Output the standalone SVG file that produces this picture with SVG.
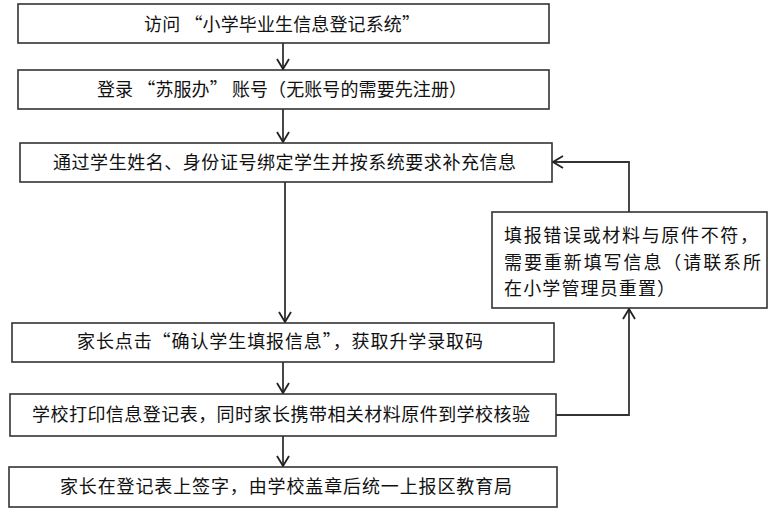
<svg xmlns="http://www.w3.org/2000/svg" width="772" height="514" viewBox="0 0 772 514">
<style>
.box{fill:#fff;stroke:#333;stroke-width:1.6}
.t{font-family:"Noto Sans CJK SC","Microsoft YaHei",sans-serif;font-size:18px;fill:#111}
.c{fill:none;stroke:#333;stroke-width:1.8}
</style>
<defs>
<marker id="ah" viewBox="0 0 12 14" refX="11" refY="7" markerWidth="12" markerHeight="14" markerUnits="userSpaceOnUse" orient="auto">
<path d="M1,1 L11,7 L1,13" fill="none" stroke="#222" stroke-width="1.8"/>
</marker>
</defs>
<rect width="772" height="514" fill="#fff"/>
<g id="n1"><rect class="box" x="18" y="4" width="531" height="39"/><text class="t" x="144" y="31" textLength="276" lengthAdjust="spacing">访问 “小学毕业生信息登记系统”</text></g>
<g id="n2"><rect class="box" x="18" y="70" width="531" height="39"/><text class="t" x="97" y="96" textLength="370" lengthAdjust="spacing">登录 “苏服办” 账号（无账号的需要先注册）</text></g>
<g id="n3"><rect class="box" x="20" y="143" width="532" height="39"/><text class="t" x="53" y="169" textLength="463" lengthAdjust="spacing">通过学生姓名、身份证号绑定学生并按系统要求补充信息</text></g>
<g id="n4"><rect class="box" x="12" y="323" width="542" height="39"/><text class="t" x="77" y="348" textLength="406" lengthAdjust="spacing">家长点击“确认学生填报信息”，获取升学录取码</text></g>
<g id="n5"><rect class="box" x="10" y="394" width="546" height="42"/><text class="t" x="32" y="421" textLength="498" lengthAdjust="spacing">学校打印信息登记表，同时家长携带相关材料原件到学校核验</text></g>
<g id="n6"><rect class="box" x="9" y="467" width="548" height="40"/><text class="t" x="60" y="493" textLength="452" lengthAdjust="spacing">家长在登记表上签字，由学校盖章后统一上报区教育局</text></g>
<g id="n7"><rect class="box" x="492" y="212" width="275" height="96"/>
<text class="t" x="504" y="242" textLength="254" lengthAdjust="spacing">填报错误或材料与原件不符，</text>
<text class="t" x="504" y="269" textLength="257" lengthAdjust="spacing">需要重新填写信息（请联系所</text>
<text class="t" x="504" y="295" textLength="171" lengthAdjust="spacing">在小学管理员重置）</text></g>
<g id="connectors">
<line class="c" x1="283" y1="43" x2="283" y2="69" marker-end="url(#ah)"/>
<line class="c" x1="283" y1="109" x2="283" y2="142" marker-end="url(#ah)"/>
<line class="c" x1="285" y1="182" x2="285" y2="322" marker-end="url(#ah)"/>
<line class="c" x1="283" y1="362" x2="283" y2="393" marker-end="url(#ah)"/>
<line class="c" x1="283" y1="436" x2="283" y2="466" marker-end="url(#ah)"/>
<polyline class="c" points="556,415 629,415 629,309" marker-end="url(#ah)"/>
<polyline class="c" points="629,212 629,162 553,162" marker-end="url(#ah)"/>
</g>
</svg>
